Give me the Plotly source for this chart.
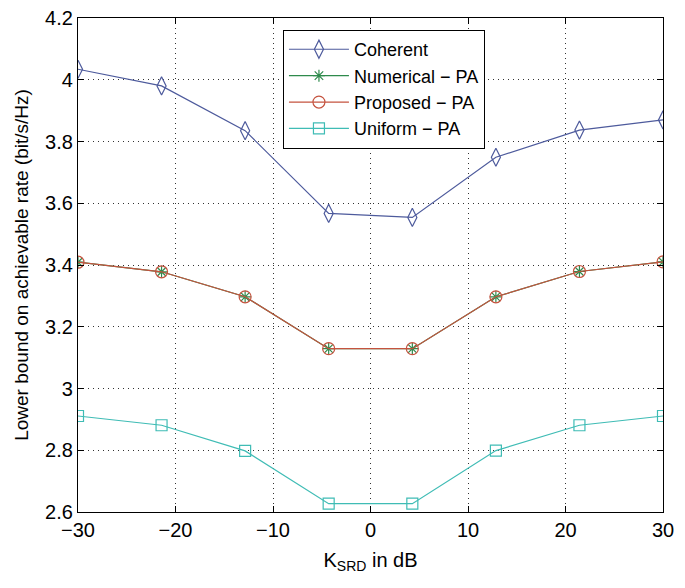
import plotly.graph_objects as go

x_vals = [-30, -21.43, -12.86, -4.29, 4.29, 12.86, 21.43, 30]
coherent = [4.034, 3.980, 3.835, 3.567, 3.554, 3.749, 3.837, 3.870]
numerical = [3.409, 3.378, 3.297, 3.129, 3.129, 3.297, 3.379, 3.410]
proposed = [3.409, 3.378, 3.297, 3.129, 3.129, 3.297, 3.379, 3.410]
uniform = [2.911, 2.881, 2.798, 2.627, 2.627, 2.799, 2.881, 2.911]
x_ticks = [-30, -20, -10, 0, 10, 20, 30]
x_tick_text = ["\u221230", "\u221220", "\u221210", "0", "10", "20", "30"]
y_ticks = [2.6, 2.8, 3.0, 3.2, 3.4, 3.6, 3.8, 4.0, 4.2]
y_tick_text = ["2.6", "2.8", "3", "3.2", "3.4", "3.6", "3.8", "4", "4.2"]

FONT = "Liberation Sans, Arial, Helvetica"

fig = go.Figure()
fig.add_trace(go.Scatter(x=x_vals, y=coherent, name="Coherent", mode="lines+markers",
                         line=dict(color="#4d5a9c", width=1.2),
                         marker=dict(symbol="diamond-tall-open", size=13, color="#4d5a9c",
                                     line=dict(width=1.2, color="#4d5a9c"))))
fig.add_trace(go.Scatter(x=x_vals, y=numerical, name="Numerical \u2212 PA", mode="lines+markers",
                         line=dict(color="#2e8a4c", width=1.2),
                         marker=dict(symbol="asterisk-open", size=10, color="#2e8a4c",
                                     line=dict(width=1.2, color="#2e8a4c"))))
fig.add_trace(go.Scatter(x=x_vals, y=proposed, name="Proposed \u2212 PA", mode="lines+markers",
                         line=dict(color="#c5533f", width=1.2),
                         marker=dict(symbol="circle-open", size=12, color="#c5533f",
                                     line=dict(width=1.2, color="#c5533f"))))
fig.add_trace(go.Scatter(x=x_vals, y=uniform, name="Uniform \u2212 PA", mode="lines+markers",
                         line=dict(color="#3fbcb5", width=1.2),
                         marker=dict(symbol="square-open", size=11, color="#3fbcb5",
                                     line=dict(width=1.2, color="#3fbcb5"))))

axis_common = dict(showline=True, linecolor="black", linewidth=1.2, mirror="ticks",
                   ticks="inside", ticklen=6, tickcolor="black",
                   showgrid=True, gridcolor="#333333", griddash="1px,4px", gridwidth=1,
                   zeroline=False, automargin=False,
                   tickfont=dict(family=FONT, size=20, color="black"))

fig.update_xaxes(range=[-30, 30], tickvals=x_ticks, ticktext=x_tick_text,
                 title=dict(text="K<sub>SRD</sub> in dB", standoff=12,
                            font=dict(family=FONT, size=20, color="black")),
                 **axis_common)
fig.update_yaxes(range=[2.6, 4.2], tickvals=y_ticks, ticktext=y_tick_text,
                 title=dict(text="Lower bound on achievable rate (bit/s/Hz)", standoff=11,
                            font=dict(family=FONT, size=19, color="black")),
                 **axis_common)

fig.update_layout(
    width=685, height=588,
    margin=dict(l=78, r=22, t=18, b=76),
    plot_bgcolor="white", paper_bgcolor="white",
    font=dict(family=FONT, color="black"),
    showlegend=True,
    legend=dict(x=0.35, y=0.976, xanchor="left", yanchor="top",
                bgcolor="white", bordercolor="black", borderwidth=1.2,
                font=dict(family=FONT, size=18, color="black"),
                itemwidth=60, tracegroupgap=0),
)

fig.write_html("out.html", config={"displayModeBar": False},
               post_script="document.body.style.margin='0';")
